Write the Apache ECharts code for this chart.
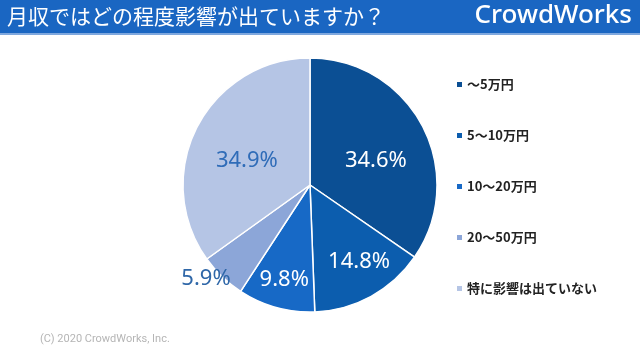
<!DOCTYPE html>
<html>
<head>
<meta charset="utf-8">
<script src="https://cdn.jsdelivr.net/npm/echarts@6/dist/echarts.min.js"></script>
<style>
html,body{margin:0;padding:0;background:#fff;}
#c{width:640px;height:359px;}
</style>
</head>
<body>
<div id="c"></div>
<script>
const titleText = '月収ではどの程度影響が出ていますか？';
const brandText = 'CrowdWorks';
const footerText = '(C) 2020 CrowdWorks, Inc.';
const categories = ['～5万円', '5～10万円', '10～20万円', '20～50万円', '特に影響は出ていない'];
const values = [34.6, 14.8, 9.8, 5.9, 34.9];

// styling
const sliceColors = ['#0B4F94', '#0C5DAE', '#1769C6', '#8CA6D8', '#B5C5E5'];
const labelColors = ['#ffffff', '#ffffff', '#ffffff', '#2F67A8', '#2F6CB8'];
const labelNudge = [[7, 7], [17, 18], [-8, 31], [-58, 46], [-4, 6]];

const chart = echarts.init(document.getElementById('c'), null, {renderer: 'canvas'});
chart.setOption({
  animation: false,
  backgroundColor: '#ffffff',
  graphic: [
    {type: 'rect', left: 0, top: 0, shape: {width: 640, height: 33}, style: {fill: '#1A66C2'}, z: 0},
    {type: 'rect', left: 0, top: 33, shape: {width: 640, height: 2}, style: {fill: '#7FA8DE'}, z: 0},
    {type: 'text', left: 7, top: 6, style: {text: titleText, fill: '#ffffff', font: '21px "Noto Sans CJK JP"'}, z: 1},
    {type: 'text', right: 8, top: 3, style: {text: brandText, fill: '#ffffff', font: '500 26px "Noto Sans"'}, z: 1},
    {type: 'text', left: 40, top: 334, style: {text: footerText, fill: '#B5B5B5', font: '11px Roboto'}, z: 1}
  ],
  legend: {
    orient: 'vertical',
    left: 450,
    top: 73,
    itemWidth: 7,
    itemHeight: 7,
    itemGap: 38,
    icon: 'rect',
    textStyle: {fontFamily: '"Noto Sans CJK JP"', fontWeight: 'bold', fontSize: 13, color: '#222', padding: [0, 0, 0, -1]},
    data: categories
  },
  series: [{
    type: 'pie',
    center: [310, 185],
    radius: 127,
    startAngle: 90,
    clockwise: true,
    avoidLabelOverlap: false,
    itemStyle: {borderColor: '#ffffff', borderWidth: 1.5},
    label: {
      show: true,
      position: 'inside',
      fontFamily: '"Noto Sans"',
      fontSize: 22,
      formatter: p => p.value.toFixed(1) + '%'
    },
    labelLine: {show: false},
    labelLayout: p => ({dx: labelNudge[p.dataIndex][0], dy: labelNudge[p.dataIndex][1]}),
    data: categories.map((name, i) => ({
      name: name,
      value: values[i],
      itemStyle: {color: sliceColors[i]},
      label: {color: labelColors[i]}
    }))
  }]
});
</script>
</body>
</html>
